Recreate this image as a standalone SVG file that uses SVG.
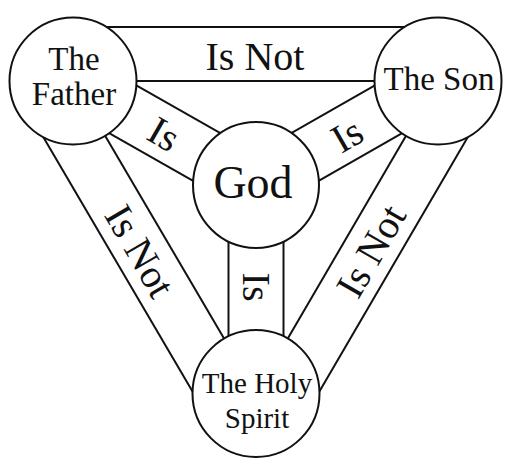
<svg xmlns="http://www.w3.org/2000/svg" width="512" height="471" viewBox="0 0 512 471">
<style>
.bar{stroke:#111;stroke-width:2;fill:none}
.node{fill:#fff;stroke:#111;stroke-width:2}
text{font-family:"Liberation Serif","Times New Roman",serif;fill:#111;text-anchor:middle}
.lbl{font-size:40px}
.nt{font-size:33px}
</style>
<rect width="512" height="471" fill="#fff"/>
<g id="connectors">
<line class="bar" x1="73" y1="27" x2="438" y2="27"/>
<line class="bar" x1="73" y1="81" x2="438" y2="81"/>
<line class="bar" x1="73" y1="81" x2="256" y2="393"/>
<line class="bar" x1="26.4" y1="108.3" x2="209.4" y2="420.3"/>
<line class="bar" x1="438" y1="81" x2="256" y2="393"/>
<line class="bar" x1="484.6" y1="108.3" x2="302.6" y2="420.3"/>
<line class="bar" x1="59.4" y1="104.9" x2="242.4" y2="208.9"/>
<line class="bar" x1="86.6" y1="57.1" x2="269.6" y2="161.1"/>
<line class="bar" x1="451.6" y1="104.9" x2="269.6" y2="208.9"/>
<line class="bar" x1="424.4" y1="57.1" x2="242.4" y2="161.1"/>
<line class="bar" x1="228.5" y1="185" x2="228.5" y2="393"/>
<line class="bar" x1="283.5" y1="185" x2="283.5" y2="393"/>
<text class="lbl" x="255" y="70">Is Not</text>
<text class="lbl" transform="translate(164,134) rotate(30)" y="13.5">Is</text>
<text class="lbl" transform="translate(347,135) rotate(-30)" y="13.5">Is</text>
<text class="lbl" transform="translate(256.5,287) rotate(90)" y="13.5">Is</text>
<text class="lbl" transform="translate(140,251) rotate(60)" y="13.5">Is Not</text>
<text class="lbl" transform="translate(371,251) rotate(-60)" y="13.5">Is Not</text>
</g>
<g id="father">
<circle class="node" cx="73" cy="81" r="63.5"/>
<text class="nt" x="74" y="70">The</text>
<text class="nt" x="74" y="105">Father</text>
</g>
<g id="son">
<circle class="node" cx="438" cy="81" r="63.5"/>
<text class="nt" x="439" y="90">The Son</text>
</g>
<g id="god">
<circle class="node" cx="256" cy="185" r="63"/>
<text x="253" y="198" style="font-size:46px">God</text>
</g>
<g id="spirit">
<circle class="node" cx="256" cy="393.5" r="63.5"/>
<text x="257" y="393" style="font-size:29px">The Holy</text>
<text x="257" y="428" style="font-size:29px">Spirit</text>
</g>
</svg>
